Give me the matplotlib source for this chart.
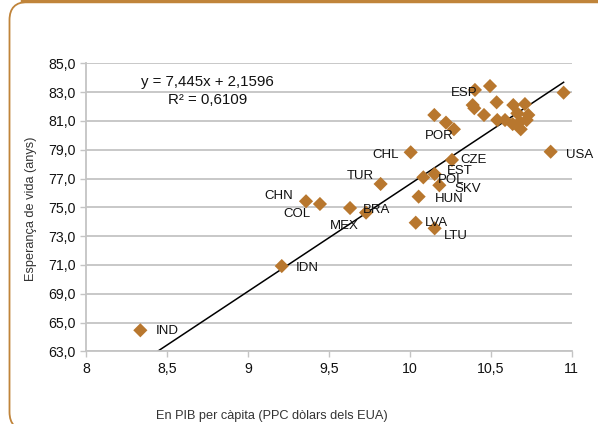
import matplotlib
matplotlib.use("Agg")
import matplotlib.pyplot as plt
from matplotlib.patches import FancyBboxPatch
from matplotlib.transforms import IdentityTransform
import numpy as np

plt.rcParams['font.family'] = ['Liberation Sans', 'DejaVu Sans']

# log GDP per capita vs life expectancy
gdp_log = [8.334, 9.208, 9.358, 9.444, 9.630, 9.729, 9.819, 10.005, 10.260,
           10.153, 10.083, 10.182, 10.054, 10.036, 10.153, 10.870, 10.272,
           10.402,
           10.495, 10.536, 10.388, 10.398, 10.458, 10.540, 10.588, 10.639,
           10.711, 10.664, 10.732, 10.635, 10.680, 10.722, 10.685, 10.950,
           10.151, 10.223]
life_exp = [66.46, 70.92, 75.42, 75.23, 74.95, 74.63, 76.62, 78.82, 78.29,
            77.31, 77.08, 76.53, 75.74, 73.93, 73.54, 78.86, 80.42,
            83.15,
            83.42, 82.29, 82.10, 81.88, 81.41, 81.06, 81.06, 82.10,
            82.17, 81.53, 81.41, 80.78, 80.94, 81.06, 80.42, 82.96,
            81.41, 80.88]
codes = ["IND", "IDN", "CHN", "COL", "MEX", "BRA", "TUR", "CHL", "CZE",
         "EST", "POL", "SKV", "HUN", "LVA", "LTU", "USA", "POR", "ESP"]

slope = 7.445
intercept = 2.1596
r2 = "0,6109"

x_ticks = [8, 8.5, 9, 9.5, 10, 10.5, 11]
x_ticklabels = ["8", "8,5", "9", "9,5", "10", "10,5", "11"]
y_ticks = [65, 67, 69, 71, 73, 75, 77, 79, 81, 83, 85]
y_ticklabels = ["63,0", "65,0", "69,0", "71,0", "73,0", "75,0", "77,0",
                "79,0", "81,0", "83,0", "85,0"]

# label offsets in pixels from each marker
label_offsets = {
    "IND": (15, -1), "IDN": (14, -2), "CHN": (-42, 5), "COL": (-37, -10),
    "MEX": (-20, -18), "BRA": (-3, 3), "TUR": (-34, 8), "CHL": (-38, -3),
    "CZE": (8, 0), "EST": (12, 3), "POL": (15, -3), "SKV": (15, -4),
    "HUN": (16, -2), "LVA": (9, 0), "LTU": (9, -8), "USA": (15, -3),
    "POR": (-29, -7), "ESP": (-24, -3),
}

marker_col = "#b8772e"
border_col = "#c0843a"
grid_col = "#c4c4c4"

W, H = 598, 424
fig = plt.figure(figsize=(5.98, 4.24), dpi=100)
ax = fig.add_axes([86.3 / W, 1 - 351.3 / H, 485.4 / W, 288 / H])

# frame around the chart (pixel coordinates)
box = FancyBboxPatch((9.5, -6), 640, 428,
                     boxstyle="round,pad=0,rounding_size=18",
                     transform=IdentityTransform(), fill=False,
                     edgecolor=border_col, linewidth=1.3, clip_on=False)
fig.patches.append(box)
fig.add_artist(plt.Line2D([22 / W, 1], [1 - 1.2 / H, 1 - 1.2 / H],
                          transform=fig.transFigure, color=border_col,
                          linewidth=2.5))

ax.scatter(gdp_log, life_exp, marker="D", s=52, color=marker_col,
           edgecolors="none", zorder=3, clip_on=False)

xs = np.array([min(gdp_log), max(gdp_log)])
ax.plot(xs, slope * xs + intercept, color="black", linewidth=1.1, zorder=2)

for i, code in enumerate(codes):
    dx, dy = label_offsets[code]
    ax.annotate(code, (gdp_log[i], life_exp[i]), xytext=(dx, dy),
                textcoords="offset pixels", ha="left", va="center",
                fontsize=9.5, color="#111111", zorder=4)

ax.text(0.249, 0.935, "y = 7,445x + 2,1596", transform=ax.transAxes,
        ha="center", va="center", fontsize=10.8, color="#111111")
ax.text(0.249, 0.872, "R² = " + r2, transform=ax.transAxes,
        ha="center", va="center", fontsize=10.8, color="#111111")

ax.set_xlim(8, 11)
ax.set_ylim(65, 85)
ax.set_xticks(x_ticks)
ax.set_xticklabels(x_ticklabels)
ax.set_yticks(y_ticks)
ax.set_yticklabels(y_ticklabels)
ax.grid(axis="y", color=grid_col, linewidth=1.3)
ax.set_axisbelow(True)
for s in ["top", "right"]:
    ax.spines[s].set_visible(False)
for s in ["left", "bottom"]:
    ax.spines[s].set_color(grid_col)
    ax.spines[s].set_linewidth(1.3)
ax.tick_params(axis="both", colors=grid_col, labelcolor="#111111",
               labelsize=10.2, length=4, width=1)

fig.text(31 / W, 1 - 209 / H, "Esperança de vida (anys)", rotation=90,
         ha="center", va="center", fontsize=9.2, color="#333333")
fig.text(272 / W, 1 - 416 / H, "En PIB per càpita (PPC dòlars dels EUA)",
         ha="center", va="center", fontsize=9.2, color="#333333")

fig.savefig("out.png", dpi=100)
